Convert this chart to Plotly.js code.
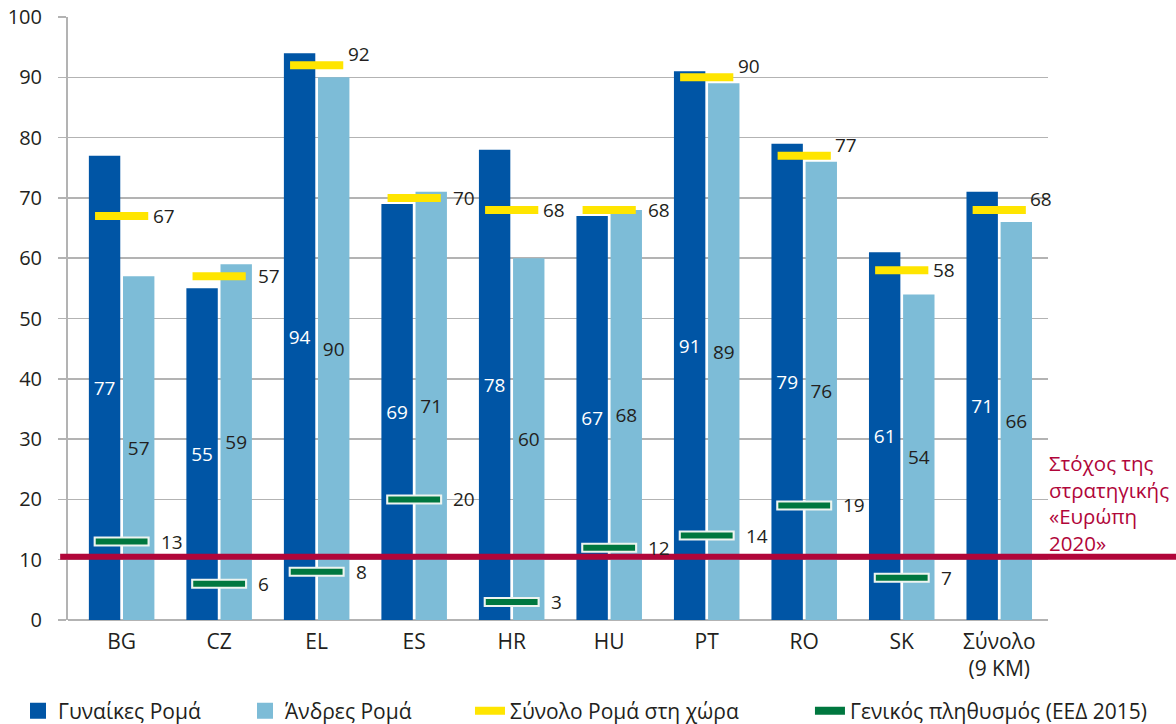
<!DOCTYPE html>
<html><head><meta charset="utf-8">
<script src="https://cdn.plot.ly/plotly-3.0.1.min.js"></script>
<style>html,body{margin:0;padding:0;background:#fff}#chart{width:1176px;height:724px}</style>
</head><body><div id="chart"></div>
<script>
const categories = ['BG','CZ','EL','ES','HR','HU','PT','RO','SK','Σύνολο<br>(9 KM)'];
const womenRoma = [77,55,94,69,78,67,91,79,61,71];
const menRoma = [57,59,90,71,60,68,89,76,54,66];
const totalRoma = [67,57,92,70,68,68,90,77,58,68];
const generalPop = [13,6,8,20,3,12,14,19,7,null];
const target2020 = 10.5;
const seriesNames = ['Γυναίκες Ρομά','Άνδρες Ρομά','Σύνολο Ρομά στη χώρα','Γενικός πληθυσμός (ΕΕΔ 2015)'];
const targetLabel = 'Στόχος της<br>στρατηγικής<br>«Ευρώπη<br>2020»';
const yTicks = [0,10,20,30,40,50,60,70,80,90,100];

const FONT = '"Open Sans", "Noto Sans", sans-serif';
const C = {dark:'#0055a5', light:'#7dbcd7', yellow:'#ffe500', green:'#00773f', red:'#b1063a', grid:'#b3b3b3', text:'#231f20'};

const traces = [
  {type:'bar', name:seriesNames[0], x:categories, y:womenRoma, marker:{color:C.dark}, showlegend:false,
   offsetgroup:'w', text:womenRoma.map(String), textposition:'inside', insidetextanchor:'middle', constraintext:'none',
   textfont:{color:'#ffffff', size:19, family:FONT}, hoverinfo:'none'},
  {type:'bar', name:seriesNames[1], x:categories, y:menRoma, marker:{color:C.light}, showlegend:false,
   offsetgroup:'m', text:menRoma.map(String), textposition:'inside', insidetextanchor:'middle', constraintext:'none',
   textfont:{color:C.text, size:19, family:FONT}, hoverinfo:'none'},
  {type:'scatter', mode:'markers', x:categories, y:totalRoma, showlegend:false,
   marker:{symbol:'line-ew', size:38, line:{width:8, color:C.yellow}}, hoverinfo:'none'},
  {type:'scatter', mode:'markers', x:categories, y:generalPop, showlegend:false,
   marker:{symbol:'line-ew', size:40, line:{width:10, color:'#eef4f0'}}, hoverinfo:'none'},
  {type:'scatter', mode:'markers', x:categories, y:generalPop, showlegend:false,
   marker:{symbol:'line-ew', size:37, line:{width:6, color:C.green}}, hoverinfo:'none'},
  // legend entries
  {type:'bar', name:seriesNames[0], x:[categories[0]], y:[null], offsetgroup:'w', legend:'legend',
   marker:{color:C.dark, line:{color:C.dark, width:4}}, hoverinfo:'none'},
  {type:'bar', name:seriesNames[1], x:[categories[0]], y:[null], offsetgroup:'m', legend:'legend2',
   marker:{color:C.light, line:{color:C.light, width:4}}, hoverinfo:'none'},
  {type:'scatter', mode:'lines', name:seriesNames[2], x:[categories[0]], y:[null], legend:'legend3',
   line:{color:C.yellow, width:8}, hoverinfo:'none'},
  {type:'scatter', mode:'lines', name:seriesNames[3], x:[categories[0]], y:[null], legend:'legend4',
   line:{color:C.green, width:8}, hoverinfo:'none'}
];

const annotations = [];
categories.forEach((c,i)=>{
  const t = totalRoma[i], m = menRoma[i];
  annotations.push({x:c, y:t, xref:'x', yref:'y', text:String(t), showarrow:false,
    xanchor:'left', yanchor:'middle', xshift:(m >= t ? 37 : 29), yshift:(m < t && t - m <= 2 ? 11 : 0),
    font:{size:19, color:C.text, family:FONT}});
  if (generalPop[i] !== null) {
    annotations.push({x:c, y:generalPop[i], xref:'x', yref:'y', text:String(generalPop[i]), showarrow:false,
      xanchor:'left', yanchor:'middle', xshift:37, font:{size:19, color:C.text, family:FONT}});
  }
});
annotations.push({x:1, y:target2020, xref:'paper', yref:'y', text:targetLabel, showarrow:false,
  xanchor:'left', yanchor:'middle', align:'left', xshift:-1, yshift:54,
  font:{size:20.5, color:C.red, family:FONT}});

const legendBase = {orientation:'h', xanchor:'left', y:-0.151, yanchor:'middle', bgcolor:'rgba(0,0,0,0)',
  font:{size:21, color:C.text, family:FONT}, itemclick:false, itemdoubleclick:false};

const layout = {
  width:1176, height:724,
  margin:{l:68, r:128, t:17, b:104, autoexpand:false},
  paper_bgcolor:'#fff', plot_bgcolor:'#fff',
  font:{family:FONT, color:C.text, size:20},
  barmode:'group', bargap:0.3, bargroupgap:0.08,
  xaxis:{type:'category', range:[-0.55, 9.5], showgrid:false, showline:false, zeroline:false,
    ticks:'', tickfont:{size:21, color:C.text}, ticklabelstandoff:7, fixedrange:true},
  yaxis:{range:[0,100], tickvals:yTicks, showgrid:true, gridcolor:C.grid, gridwidth:1.5,
    showline:true, linecolor:C.grid, linewidth:2, zeroline:true, zerolinecolor:C.grid, zerolinewidth:1.5,
    ticks:'outside', ticklen:8, tickcolor:C.grid, tickwidth:1.5, ticklabelstandoff:12,
    tickfont:{size:20, color:C.text}, fixedrange:true},
  shapes:[{type:'line', xref:'paper', yref:'y', x0:-0.008, x1:1.14, y0:target2020, y1:target2020,
    line:{color:C.red, width:6}, layer:'above'}],
  annotations:annotations,
  legend: Object.assign({}, legendBase, {x:-0.051}),
  legend2: Object.assign({}, legendBase, {x:0.1806}),
  legend3: Object.assign({}, legendBase, {x:0.4102}),
  legend4: Object.assign({}, legendBase, {x:0.7571}),
  showlegend:true
};

Plotly.newPlot('chart', traces, layout, {displayModeBar:false, staticPlot:true});
</script>
</body></html>
